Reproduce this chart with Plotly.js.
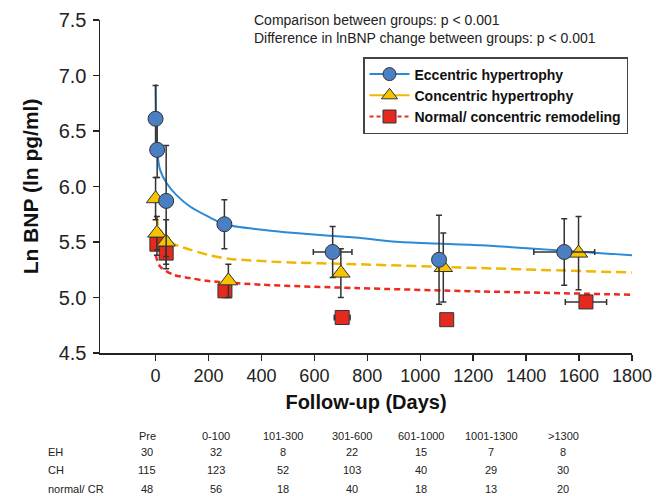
<!DOCTYPE html>
<html>
<head>
<meta charset="utf-8">
<script src="https://cdn.plot.ly/plotly-3.0.1.min.js"></script>
<style>html,body{margin:0;padding:0;background:#fff;}#chart{width:656px;height:496px;}</style>
</head>
<body>
<div id="chart"></div>
<script>
// ---- Data ----
// Eccentric hypertrophy (EH)
const ehX    = [0, 6, 40, 260, 669, 1071, 1544];
const ehY    = [6.61, 6.33, 5.87, 5.66, 5.41, 5.34, 5.41];
const ehErrY = [0.30, 0.25, 0.50, 0.22, 0.23, 0.40, 0.30];
const ehErrX = [0, 0, 0, 25, 73, 0, 115];
// Concentric hypertrophy (CH)
const chX    = [0, 5, 40, 275, 700, 1087, 1598];
const chY    = [5.89, 5.58, 5.50, 5.15, 5.22, 5.27, 5.40];
const chErrY = [0.19, 0.15, 0.20, 0.15, 0.22, 0.31, 0.33];
// Normal / concentric remodeling (CR)
const nX     = [5, 40, 262, 705, 1100, 1626];
const nY     = [5.48, 5.40, 5.06, 4.82, 4.80, 4.96];
const nErrY  = [0.10, 0.14, 0.06, 0.05, 0.05, 0.05];
const nErrX  = [0, 0, 0, 30, 0, 78];
// Fitted curves
const ehCurveX = [0.5, 6, 17, 42, 80, 130, 206, 259, 402, 528, 755, 925, 1228, 1800];
const ehCurveY = [6.92, 6.33, 6.15, 6.03, 5.92, 5.82, 5.72, 5.66, 5.61, 5.58, 5.54, 5.50, 5.47, 5.38];
const chCurveX = [0, 17, 55, 105, 206, 275, 465, 755, 1228, 1800];
const chCurveY = [5.74, 5.61, 5.50, 5.45, 5.38, 5.35, 5.32, 5.30, 5.265, 5.225];
const nCurveX  = [0, 17, 67, 130, 193, 402, 755, 1228, 1800];
const nCurveY  = [5.385, 5.28, 5.205, 5.175, 5.15, 5.115, 5.085, 5.055, 5.025];
// Table below the chart
const tableCols = ["Pre", "0-100", "101-300", "301-600", "601-1000", "1001-1300", ">1300"];
const tableRows = ["EH", "CH", "normal/ CR"];
const nEH = [30, 32, 8, 22, 15, 7, 8];
const nCH = [115, 123, 52, 103, 40, 29, 30];
const nCR = [48, 56, 18, 40, 18, 13, 20];
const xTicks = [0, 200, 400, 600, 800, 1000, 1200, 1400, 1600, 1800];
const yTicks = [4.5, 5.0, 5.5, 6.0, 6.5, 7.0, 7.5];

// ---- Styles ----
const FONT = "Liberation Sans, Arial, Helvetica, sans-serif";
const BLUE_LINE = "#2a8ad6", BLUE_FILL = "#4a7fc4";
const YEL_LINE = "#f2b705", YEL_FILL = "#f6c300";
const RED_LINE = "#ee2a1e", RED_FILL = "#e42a1f";
const OUTLINE = "#333333";
const ERR = {color: "#333333", thickness: 1.5, width: 3};

const L = 100, T = 20, W = 532, H = 333;
const px2x = p => (p - L) / W;
const px2y = p => 1 - (p - T) / H;

const traces = [
  {x: ehCurveX, y: ehCurveY, mode: "lines", line: {color: BLUE_LINE, width: 2, shape: "spline", smoothing: 0.8}, showlegend: false, hoverinfo: "skip"},
  {x: chCurveX, y: chCurveY, mode: "lines", line: {color: YEL_LINE, width: 2.5, dash: "10px,5px", shape: "spline", smoothing: 0.8}, showlegend: false, hoverinfo: "skip"},
  {x: nCurveX, y: nCurveY, mode: "lines", line: {color: RED_LINE, width: 2.5, dash: "6px,4px", shape: "spline", smoothing: 0.8}, showlegend: false, hoverinfo: "skip"},
  {x: nX, y: nY, mode: "markers", showlegend: false,
   marker: {symbol: "square", size: 14, color: RED_FILL, line: {color: OUTLINE, width: 1}},
   error_y: Object.assign({type: "data", array: nErrY}, ERR),
   error_x: Object.assign({type: "data", array: nErrX}, ERR)},
  {x: chX, y: chY, mode: "markers", showlegend: false,
   marker: {symbol: "triangle-up", size: 16, color: YEL_FILL, line: {color: OUTLINE, width: 1}},
   error_y: Object.assign({type: "data", array: chErrY}, ERR)},
  {x: ehX, y: ehY, mode: "markers", showlegend: false,
   marker: {symbol: "circle", size: 15, color: BLUE_FILL, line: {color: OUTLINE, width: 1}},
   error_y: Object.assign({type: "data", array: ehErrY}, ERR),
   error_x: Object.assign({type: "data", array: ehErrX}, ERR)},
  // legend entries
  {x: [null], y: [null], mode: "lines+markers", name: "Eccentric hypertrophy",
   line: {color: BLUE_LINE, width: 2}, marker: {symbol: "circle", size: 13, color: BLUE_FILL, line: {color: OUTLINE, width: 1}}},
  {x: [null], y: [null], mode: "lines+markers", name: "Concentric hypertrophy",
   line: {color: YEL_LINE, width: 2}, marker: {symbol: "triangle-up", size: 14, color: YEL_FILL, line: {color: OUTLINE, width: 1}}},
  {x: [null], y: [null], mode: "lines+markers", name: "Normal/ concentric remodeling",
   line: {color: RED_LINE, width: 2, dash: "4px,3px"}, marker: {symbol: "square", size: 13, color: RED_FILL, line: {color: OUTLINE, width: 1}}}
];

const annotations = [
  {xref: "paper", yref: "paper", x: px2x(252), y: px2y(20), xanchor: "left", yanchor: "middle", showarrow: false,
   text: "Comparison between groups: p < 0.001", font: {family: FONT, size: 14, color: "#222"}},
  {xref: "paper", yref: "paper", x: px2x(252), y: px2y(38), xanchor: "left", yanchor: "middle", showarrow: false,
   text: "Difference in lnBNP change between groups: p < 0.001", font: {family: FONT, size: 14, color: "#222"}}
];
const colPx = [147, 216, 283, 352, 421, 491, 563];
const rowPx = [436, 452, 470, 489];
const tfont = {family: FONT, size: 11, color: "#222"};
tableCols.forEach((c, i) => annotations.push({xref: "paper", yref: "paper", x: px2x(colPx[i]), y: px2y(rowPx[0]), xanchor: "center", yanchor: "middle", showarrow: false, text: c, font: tfont}));
const counts = [nEH, nCH, nCR];
tableRows.forEach((r, j) => {
  annotations.push({xref: "paper", yref: "paper", x: px2x(46), y: px2y(rowPx[j + 1]), xanchor: "left", yanchor: "middle", showarrow: false, text: r, font: tfont});
  counts[j].forEach((v, i) => annotations.push({xref: "paper", yref: "paper", x: px2x(colPx[i]), y: px2y(rowPx[j + 1]), xanchor: "center", yanchor: "middle", showarrow: false, text: String(v), font: tfont}));
});

const layout = {
  width: 656, height: 496,
  margin: {l: L, r: 656 - L - W, t: T, b: 496 - T - H},
  paper_bgcolor: "#fff", plot_bgcolor: "#fff",
  showlegend: true,
  legend: {x: px2x(363), y: px2y(57), xanchor: "left", yanchor: "top", bgcolor: "#fff",
           bordercolor: "#444", borderwidth: 1.5, font: {family: FONT, size: 14, color: "#111", weight: "bold"},
           itemwidth: 40, tracegroupgap: 0},
  xaxis: {range: [-210, 1800], tickvals: xTicks, ticktext: xTicks.map(String), showgrid: false, zeroline: false,
          showline: true, linecolor: "#222", linewidth: 1.5, ticks: "outside", ticklen: 6, tickwidth: 1.5, tickcolor: "#222",
          tickfont: {family: FONT, size: 18, color: "#222"},
          title: {text: "<b>Follow-up (Days)</b>", font: {family: FONT, size: 20, color: "#111"}, standoff: 10}},
  yaxis: {range: [4.5, 7.5], tickvals: yTicks, ticktext: yTicks.map(v => v.toFixed(1)), showgrid: false, zeroline: false,
          showline: true, linecolor: "#222", linewidth: 1.5, ticks: "outside", ticklen: 6, tickwidth: 1.5, tickcolor: "#222",
          tickfont: {family: FONT, size: 20, color: "#222"}, ticklabelstandoff: 2,
          title: {text: "<b>Ln BNP (ln pg/ml)</b>", font: {family: FONT, size: 21, color: "#111"}, standoff: 14}},
  annotations: annotations
};

Plotly.newPlot("chart", traces, layout, {displayModeBar: false, staticPlot: true});
</script>
</body>
</html>
